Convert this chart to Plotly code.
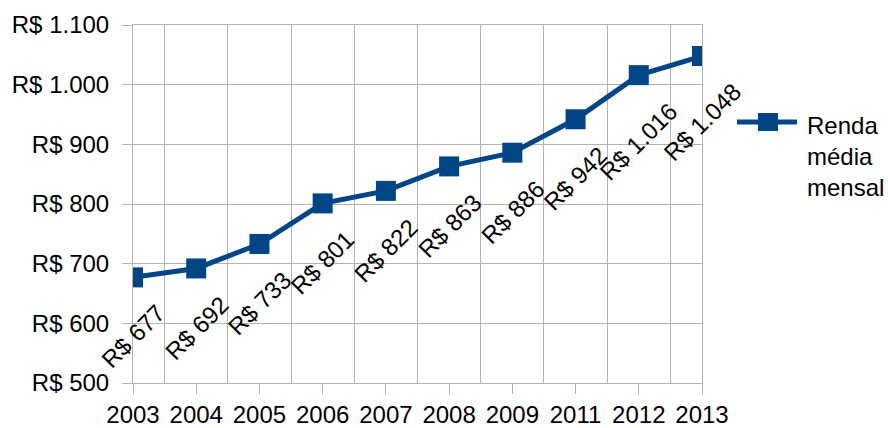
import plotly.graph_objects as go

# Renda média mensal (R$) por ano
anos = ["2003", "2004", "2005", "2006", "2007", "2008", "2009", "2011", "2012", "2013"]
renda = [677, 692, 733, 801, 822, 863, 886, 942, 1016, 1048]
y_ticks = [500, 600, 700, 800, 900, 1000, 1100]
serie_nome = "Renda<br>média<br>mensal"

AZUL = "#004586"
GRADE = "#b3b3b3"
FONTE = "Liberation Sans, Arial, sans-serif"

idx = list(range(len(anos)))


def brl(v):
    return "R$ " + f"{v:,}".replace(",", ".")


fig = go.Figure()
fig.add_trace(go.Scatter(
    x=idx, y=renda, mode="lines+markers",
    line=dict(color=AZUL, width=5),
    marker=dict(symbol="square", size=20, color=AZUL),
    showlegend=False, hoverinfo="skip",
))

# rótulos de valor, girados 45° abaixo de cada ponto
for i, v in zip(idx, renda):
    fig.add_annotation(
        x=i, y=v, text=brl(v), showarrow=False, textangle=-45,
        xanchor="center", yanchor="top", yshift=-20,
        font=dict(family=FONTE, size=24, color="black"),
    )

# legenda desenhada à direita da área do gráfico
fig.add_shape(type="line", xref="paper", yref="paper",
              x0=1.0615, x1=1.167, y0=0.729, y1=0.729,
              line=dict(color=AZUL, width=5))
fig.add_shape(type="rect", xref="paper", yref="paper",
              xsizemode="pixel", ysizemode="pixel",
              xanchor=1.116, yanchor=0.729, x0=-10, x1=10, y0=-9, y1=9,
              fillcolor=AZUL, line=dict(width=0))
fig.add_annotation(
    xref="paper", yref="paper", x=1.181, y=0.632,
    xanchor="left", yanchor="middle", align="left", showarrow=False,
    text=serie_nome, font=dict(family=FONTE, size=24, color="black"),
)

fig.update_layout(
    width=888, height=428,
    margin=dict(l=133, r=186, t=25, b=45),
    paper_bgcolor="white", plot_bgcolor="white",
    font=dict(family=FONTE, size=24, color="black"),
    xaxis=dict(
        range=[0, len(anos) - 1], tickvals=idx, ticktext=anos,
        showgrid=False, zeroline=False, automargin=False,
        ticks="outside", ticklen=10, tickcolor=GRADE, ticklabelstandoff=0,
        showline=True, linecolor=GRADE, linewidth=1, mirror=True,
        minor=dict(tick0=0.5, dtick=1, showgrid=True, gridcolor=GRADE, gridwidth=1),
        tickfont=dict(family=FONTE, size=24, color="black"),
    ),
    yaxis=dict(
        range=[y_ticks[0], y_ticks[-1]], tickvals=y_ticks,
        ticktext=[brl(t) for t in y_ticks],
        showgrid=True, gridcolor=GRADE, gridwidth=1, zeroline=False,
        automargin=False,
        ticks="outside", ticklen=10, tickcolor=GRADE, ticklabelstandoff=8,
        showline=True, linecolor=GRADE, linewidth=1, mirror=True,
        tickfont=dict(family=FONTE, size=24, color="black"),
    ),
)

fig.write_html("out.html")
